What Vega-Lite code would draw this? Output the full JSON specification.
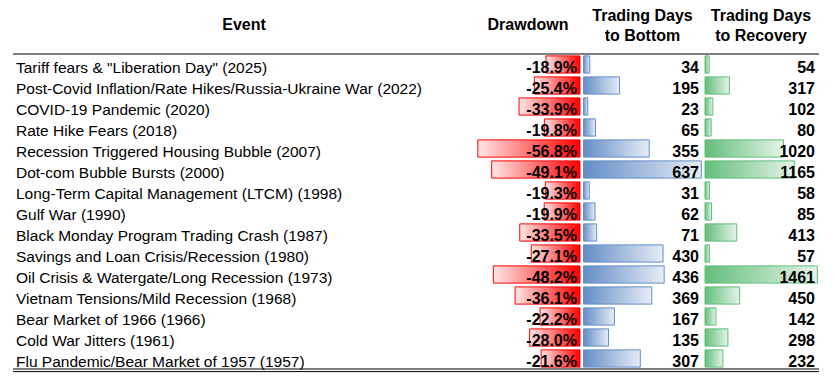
{
  "$schema": "https://vega.github.io/schema/vega-lite/v6.json",
  "padding": {"left": 12, "top": 0, "right": 10, "bottom": 5},
  "bounds": "full",
  "spacing": 0,
  "config": {
    "view": {"stroke": null},
    "font": "Liberation Sans",
    "concat": {"spacing": 0},
    "locale": {"number": {"decimal": ".", "thousands": ",", "grouping": [3], "currency": ["$", ""], "minus": "-"}}
  },
  "datasets": {
    "rows": [
      {"i": 1, "event": "Tariff fears & \"Liberation Day\" (2025)", "dd": -0.189, "bottom": 34, "recovery": 54},
      {"i": 2, "event": "Post-Covid Inflation/Rate Hikes/Russia-Ukraine War (2022)", "dd": -0.254, "bottom": 195, "recovery": 317},
      {"i": 3, "event": "COVID-19 Pandemic (2020)", "dd": -0.339, "bottom": 23, "recovery": 102},
      {"i": 4, "event": "Rate Hike Fears (2018)", "dd": -0.198, "bottom": 65, "recovery": 80},
      {"i": 5, "event": "Recession Triggered Housing Bubble (2007)", "dd": -0.568, "bottom": 355, "recovery": 1020},
      {"i": 6, "event": "Dot-com Bubble Bursts (2000)", "dd": -0.491, "bottom": 637, "recovery": 1165},
      {"i": 7, "event": "Long-Term Capital Management (LTCM) (1998)", "dd": -0.193, "bottom": 31, "recovery": 58},
      {"i": 8, "event": "Gulf War (1990)", "dd": -0.199, "bottom": 62, "recovery": 85},
      {"i": 9, "event": "Black Monday Program Trading Crash (1987)", "dd": -0.335, "bottom": 71, "recovery": 413},
      {"i": 10, "event": "Savings and Loan Crisis/Recession (1980)", "dd": -0.271, "bottom": 430, "recovery": 57},
      {"i": 11, "event": "Oil Crisis & Watergate/Long Recession (1973)", "dd": -0.482, "bottom": 436, "recovery": 1461},
      {"i": 12, "event": "Vietnam Tensions/Mild Recession (1968)", "dd": -0.361, "bottom": 369, "recovery": 450},
      {"i": 13, "event": "Bear Market of 1966 (1966)", "dd": -0.222, "bottom": 167, "recovery": 142},
      {"i": 14, "event": "Cold War Jitters (1961)", "dd": -0.28, "bottom": 135, "recovery": 298},
      {"i": 15, "event": "Flu Pandemic/Bear Market of 1957 (1957)", "dd": -0.216, "bottom": 307, "recovery": 232}
    ]
  },
  "vconcat": [
    {
      "spacing": 0,
      "bounds": "flush",
      "hconcat": [
        {"width": 458, "height": 52.5, "data": {"values": [{}]},
         "mark": {"type": "text", "fontWeight": "bold", "fontSize": 16, "baseline": "middle", "dx": 2, "dy": -1.05, "color": "black"},
         "encoding": {"text": {"value": "Event"}}},
        {"width": 109, "height": 52.5, "data": {"values": [{}]},
         "mark": {"type": "text", "fontWeight": "bold", "fontSize": 16, "baseline": "middle", "dx": 2.5, "dy": -1.05, "color": "black"},
         "encoding": {"text": {"value": "Drawdown"}}},
        {"width": 125, "height": 52.5, "data": {"values": [{}]},
         "layer": [
           {"mark": {"type": "text", "fontWeight": "bold", "fontSize": 16, "baseline": "middle", "dx": 0, "dy": -10.05, "color": "black"},
            "encoding": {"text": {"value": "Trading Days"}}},
           {"mark": {"type": "text", "fontWeight": "bold", "fontSize": 16, "baseline": "middle", "dx": 0, "dy": 9.75, "color": "black"},
            "encoding": {"text": {"value": "to Bottom"}}}
         ]},
        {"width": 114, "height": 52.5, "data": {"values": [{}]},
         "layer": [
           {"mark": {"type": "text", "fontWeight": "bold", "fontSize": 16, "baseline": "middle", "dx": -1, "dy": -10.05, "color": "black"},
            "encoding": {"text": {"value": "Trading Days"}}},
           {"mark": {"type": "text", "fontWeight": "bold", "fontSize": 16, "baseline": "middle", "dx": -1, "dy": 9.75, "color": "black"},
            "encoding": {"text": {"value": "to Recovery"}}}
         ]}
      ]
    },
    {
      "spacing": 0,
      "bounds": "flush",
      "hconcat": [
        {
          "width": 458, "height": 315,
          "layer": [
            {"data": {"name": "rows"},
             "mark": {"type": "text", "align": "left", "baseline": "middle", "fontSize": 15.5, "dx": 3, "dy": 3.2, "color": "black"},
             "encoding": {
               "x": {"datum": 0, "type": "quantitative", "scale": {"domain": [0, 1], "nice": false}, "axis": null},
               "y": {"field": "i", "type": "ordinal", "axis": null, "scale": {"paddingInner": 0, "paddingOuter": 0}},
               "text": {"field": "event"}}},
            {"data": {"values": [{}]}, "mark": {"type": "rule", "color": "black", "strokeWidth": 1},
             "encoding": {"y": {"datum": 1, "type": "ordinal", "bandPosition": 0}}},
            {"data": {"values": [{}]}, "mark": {"type": "rule", "color": "black", "strokeWidth": 1},
             "encoding": {"y": {"datum": 15, "type": "ordinal", "bandPosition": 1}}},
            {"data": {"values": [{}]}, "mark": {"type": "rule", "color": "black", "strokeWidth": 1, "yOffset": 2.6},
             "encoding": {"y": {"datum": 15, "type": "ordinal", "bandPosition": 1}}}
          ]
        },
        {
          "width": 109, "height": 315,
          "layer": [
            {"data": {"name": "rows"},
             "mark": {"type": "bar", "height": {"band": 0.82}, "stroke": "#FF0000", "strokeWidth": 1,
                      "fill": {"gradient": "linear", "x1": 0, "x2": 1, "y1": 0, "y2": 0,
                               "stops": [{"offset": 0, "color": "#FFE6E6"}, {"offset": 1, "color": "#FF0000"}]}},
             "encoding": {
               "x": {"field": "dd", "type": "quantitative", "scale": {"domain": [-0.606, 0], "nice": false}, "axis": null},
               "y": {"field": "i", "type": "ordinal", "axis": null, "scale": {"paddingInner": 0, "paddingOuter": 0}}}},
            {"data": {"name": "rows"},
             "mark": {"type": "text", "align": "right", "baseline": "middle", "fontSize": 16, "fontWeight": "bold", "x": "width", "dx": -3, "dy": 3.2, "color": "black"},
             "encoding": {
               "y": {"field": "i", "type": "ordinal"},
               "text": {"field": "dd", "type": "quantitative", "format": ".1%"}}},
            {"data": {"values": [{}]}, "mark": {"type": "rule", "color": "black", "strokeWidth": 1},
             "encoding": {"y": {"datum": 1, "type": "ordinal", "bandPosition": 0}}},
            {"data": {"values": [{}]}, "mark": {"type": "rule", "color": "black", "strokeWidth": 1},
             "encoding": {"y": {"datum": 15, "type": "ordinal", "bandPosition": 1}}},
            {"data": {"values": [{}]}, "mark": {"type": "rule", "color": "black", "strokeWidth": 1, "yOffset": 2.6},
             "encoding": {"y": {"datum": 15, "type": "ordinal", "bandPosition": 1}}}
          ]
        },
        {
          "width": 125, "height": 315,
          "layer": [
            {"data": {"name": "rows"},
             "mark": {"type": "bar", "height": {"band": 0.82}, "stroke": "#638EC6", "strokeWidth": 1,
                      "fill": {"gradient": "linear", "x1": 0, "x2": 1, "y1": 0, "y2": 0,
                               "stops": [{"offset": 0, "color": "#638EC6"}, {"offset": 1, "color": "#E6ECF6"}]}},
             "encoding": {
               "x": {"field": "bottom", "type": "quantitative", "scale": {"domain": [-19, 656.7], "nice": false}, "axis": null},
               "y": {"field": "i", "type": "ordinal", "axis": null, "scale": {"paddingInner": 0, "paddingOuter": 0}}}},
            {"data": {"name": "rows"},
             "mark": {"type": "text", "align": "right", "baseline": "middle", "fontSize": 16, "fontWeight": "bold", "x": "width", "dx": -6, "dy": 3.2, "color": "black"},
             "encoding": {
               "y": {"field": "i", "type": "ordinal"},
               "text": {"field": "bottom", "type": "quantitative", "format": "d"}}},
            {"data": {"values": [{}]}, "mark": {"type": "rule", "color": "black", "strokeWidth": 1},
             "encoding": {"y": {"datum": 1, "type": "ordinal", "bandPosition": 0}}},
            {"data": {"values": [{}]}, "mark": {"type": "rule", "color": "black", "strokeWidth": 1},
             "encoding": {"y": {"datum": 15, "type": "ordinal", "bandPosition": 1}}},
            {"data": {"values": [{}]}, "mark": {"type": "rule", "color": "black", "strokeWidth": 1, "yOffset": 2.6},
             "encoding": {"y": {"datum": 15, "type": "ordinal", "bandPosition": 1}}}
          ]
        },
        {
          "width": 114, "height": 315,
          "layer": [
            {"data": {"name": "rows"},
             "mark": {"type": "bar", "height": {"band": 0.82}, "stroke": "#63BE7B", "strokeWidth": 1,
                      "fill": {"gradient": "linear", "x1": 0, "x2": 1, "y1": 0, "y2": 0,
                               "stops": [{"offset": 0, "color": "#63BE7B"}, {"offset": 1, "color": "#E4F4E8"}]}},
             "encoding": {
               "x": {"field": "recovery", "type": "quantitative", "scale": {"domain": [0, 1482], "nice": false}, "axis": null},
               "y": {"field": "i", "type": "ordinal", "axis": null, "scale": {"paddingInner": 0, "paddingOuter": 0}}}},
            {"data": {"name": "rows"},
             "mark": {"type": "text", "align": "right", "baseline": "middle", "fontSize": 16, "fontWeight": "bold", "x": "width", "dx": -4, "dy": 3.2, "color": "black"},
             "encoding": {
               "y": {"field": "i", "type": "ordinal"},
               "text": {"field": "recovery", "type": "quantitative", "format": "d"}}},
            {"data": {"values": [{}]}, "mark": {"type": "rule", "color": "black", "strokeWidth": 1},
             "encoding": {"y": {"datum": 1, "type": "ordinal", "bandPosition": 0}}},
            {"data": {"values": [{}]}, "mark": {"type": "rule", "color": "black", "strokeWidth": 1},
             "encoding": {"y": {"datum": 15, "type": "ordinal", "bandPosition": 1}}},
            {"data": {"values": [{}]}, "mark": {"type": "rule", "color": "black", "strokeWidth": 1, "yOffset": 2.6},
             "encoding": {"y": {"datum": 15, "type": "ordinal", "bandPosition": 1}}}
          ]
        }
      ]
    }
  ]
}
